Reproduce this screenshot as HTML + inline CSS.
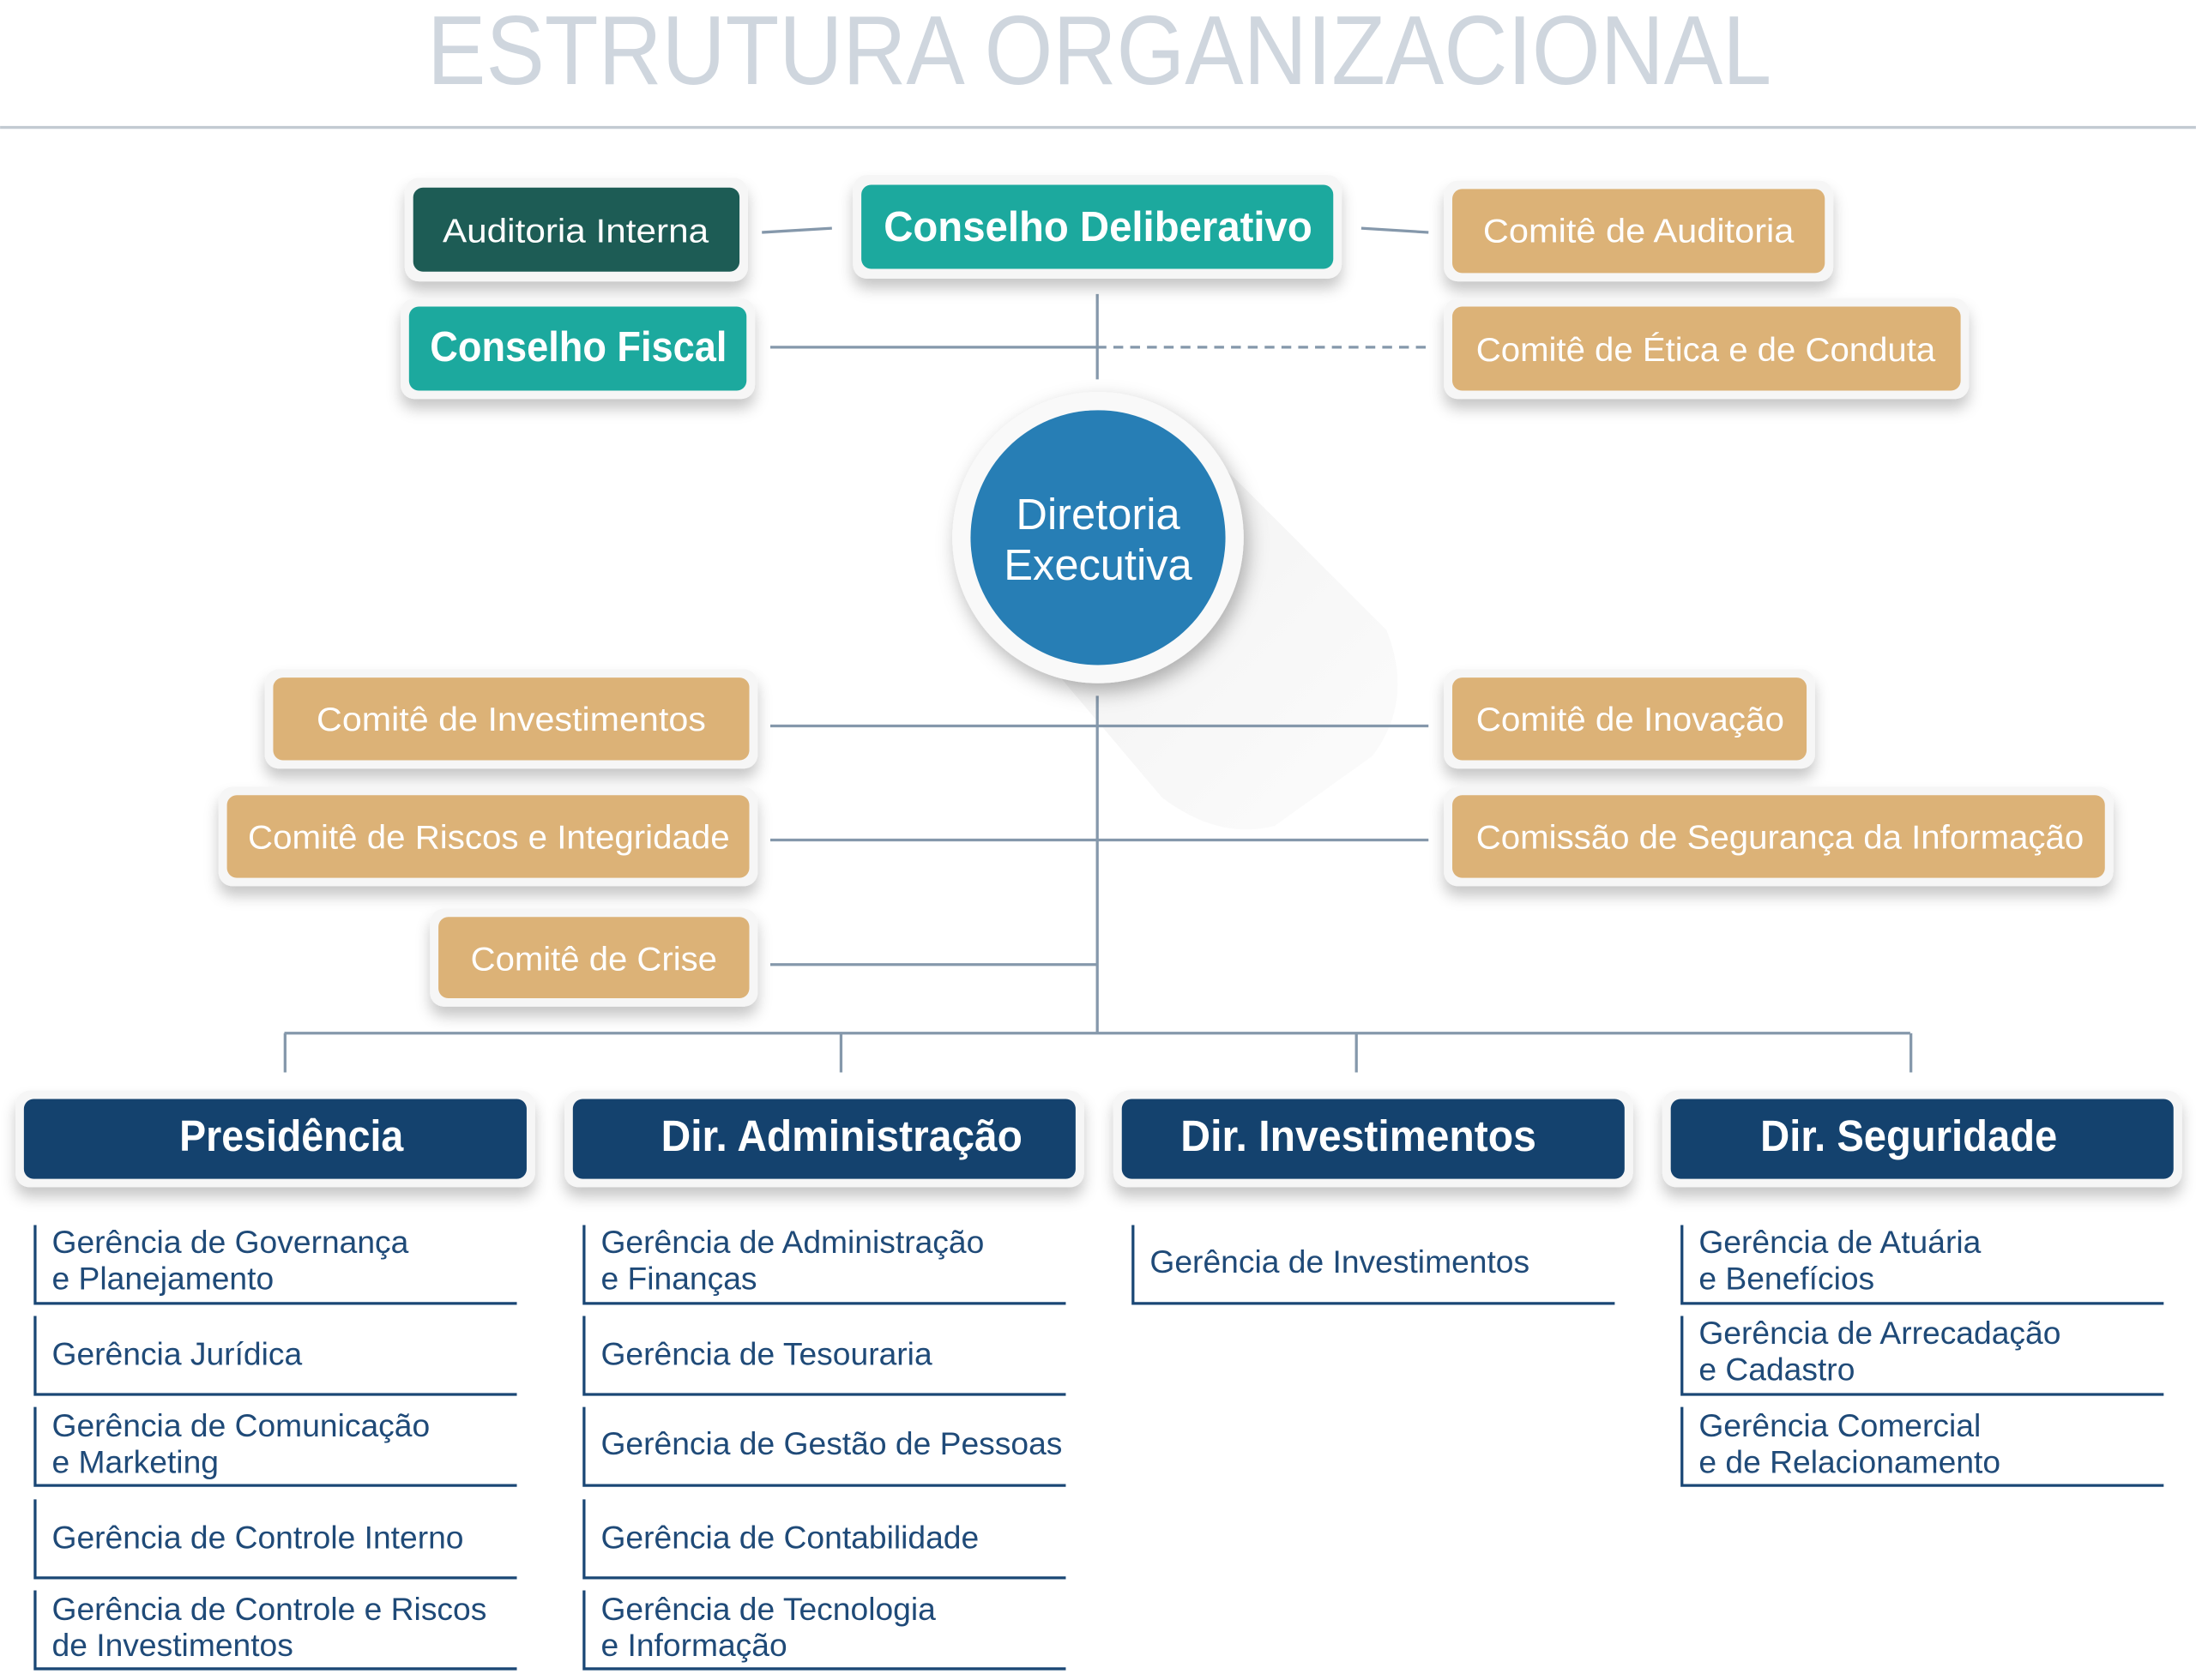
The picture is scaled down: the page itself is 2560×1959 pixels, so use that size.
<!DOCTYPE html>
<html><head><meta charset="utf-8"><style>
html,body{margin:0;padding:0;background:#fff;width:2560px;height:1959px;overflow:hidden}
svg{display:block}
text{font-family:"Liberation Sans",sans-serif}
</style></head><body>
<svg width="2560" height="1959" viewBox="0 0 1568 1200" xmlns="http://www.w3.org/2000/svg">
<defs>
<filter id="sh" x="-10%" y="-30%" width="120%" height="180%">
<feDropShadow dx="0" dy="7" stdDeviation="5" flood-color="#000" flood-opacity="0.22"/>
</filter>
<filter id="csh" x="-30%" y="-30%" width="160%" height="160%">
<feDropShadow dx="3" dy="6" stdDeviation="7" flood-color="#000" flood-opacity="0.3"/>
</filter>
<linearGradient id="lg" x1="0" y1="0" x2="1" y2="1">
<stop offset="0" stop-color="#d8d8d8" stop-opacity="0.6"/>
<stop offset="1" stop-color="#eeeeee" stop-opacity="0.3"/>
</linearGradient>
</defs>

<text x="785" y="60" text-anchor="middle" font-size="70" fill="#cfd6de" textLength="960" lengthAdjust="spacingAndGlyphs">ESTRUTURA ORGANIZACIONAL</text>
<line x1="0" y1="91" x2="1568" y2="91" stroke="#c2cad2" stroke-width="2"/>

<path d="M850 310 L990 450 Q1010 500 980 540 L910 590 Q870 600 830 570 L720 440 Z" fill="url(#lg)" opacity="0.7"/>

<g stroke="#8598ab" stroke-width="2" fill="none">
<line x1="544" y1="166" x2="594" y2="163"/>
<line x1="972" y1="163" x2="1020" y2="166"/>
<line x1="783.5" y1="210" x2="783.5" y2="271"/>
<line x1="550" y1="248" x2="783" y2="248"/>
<line x1="783" y1="248" x2="1020" y2="248" stroke-dasharray="7,5"/>
<line x1="783.5" y1="497" x2="783.5" y2="738"/>
<line x1="550" y1="518.5" x2="1020" y2="518.5"/>
<line x1="550" y1="600" x2="1020" y2="600"/>
<line x1="550" y1="689" x2="783" y2="689"/>
<line x1="203" y1="738" x2="1364" y2="738"/>
<line x1="203.5" y1="738" x2="203.5" y2="766"/>
<line x1="600.5" y1="738" x2="600.5" y2="766"/>
<line x1="968.5" y1="738" x2="968.5" y2="766"/>
<line x1="1364.5" y1="738" x2="1364.5" y2="766"/>
</g>

<g filter="url(#sh)">
<rect x="289" y="127" width="245" height="74" rx="10" fill="#f6f6f6"/>
<rect x="609" y="125" width="349" height="74" rx="10" fill="#f6f6f6"/>
<rect x="1031" y="129" width="278" height="72" rx="10" fill="#f6f6f6"/>
<rect x="286" y="213" width="253" height="72" rx="10" fill="#f6f6f6"/>
<rect x="1031" y="213" width="375" height="72" rx="10" fill="#f6f6f6"/>
<rect x="189" y="478" width="352" height="71" rx="10" fill="#f6f6f6"/>
<rect x="1031" y="478" width="265" height="71" rx="10" fill="#f6f6f6"/>
<rect x="156" y="562" width="385" height="71" rx="10" fill="#f6f6f6"/>
<rect x="1031" y="562" width="478" height="71" rx="10" fill="#f6f6f6"/>
<rect x="307" y="649" width="234" height="70" rx="10" fill="#f6f6f6"/>
<rect x="11" y="779" width="371" height="69" rx="10" fill="#f6f6f6"/>
<rect x="403" y="779" width="371" height="69" rx="10" fill="#f6f6f6"/>
<rect x="795" y="779" width="371" height="69" rx="10" fill="#f6f6f6"/>
<rect x="1187" y="779" width="371" height="69" rx="10" fill="#f6f6f6"/>
</g>
<rect x="295" y="134" width="233" height="60" rx="7" fill="#1d5c55"/>
<rect x="615" y="132" width="337" height="60" rx="7" fill="#1ca99e"/>
<rect x="1037" y="135" width="266" height="60" rx="7" fill="#dcb277"/>
<rect x="292" y="219" width="241" height="60" rx="7" fill="#1ca99e"/>
<rect x="1037" y="219" width="363" height="60" rx="7" fill="#dcb277"/>
<rect x="195" y="484" width="340" height="59" rx="7" fill="#dcb277"/>
<rect x="1037" y="484" width="253" height="59" rx="7" fill="#dcb277"/>
<rect x="162" y="568" width="373" height="59" rx="7" fill="#dcb277"/>
<rect x="1037" y="568" width="466" height="59" rx="7" fill="#dcb277"/>
<rect x="313" y="655" width="222" height="58" rx="7" fill="#dcb277"/>
<rect x="17" y="785" width="359" height="57" rx="7" fill="#14426e"/>
<rect x="409" y="785" width="359" height="57" rx="7" fill="#14426e"/>
<rect x="801" y="785" width="359" height="57" rx="7" fill="#14426e"/>
<rect x="1193" y="785" width="359" height="57" rx="7" fill="#14426e"/>

<g fill="#fff" text-anchor="middle">
<text x="411" y="173" font-size="24" textLength="190" lengthAdjust="spacingAndGlyphs">Auditoria Interna</text>
<text x="784" y="172" font-size="30" font-weight="bold" textLength="306" lengthAdjust="spacingAndGlyphs">Conselho Deliberativo</text>
<text x="1170" y="173" font-size="24" textLength="222" lengthAdjust="spacingAndGlyphs">Comitê de Auditoria</text>
<text x="413" y="258" font-size="30" font-weight="bold" textLength="212" lengthAdjust="spacingAndGlyphs">Conselho Fiscal</text>
<text x="1218" y="258" font-size="24" textLength="328" lengthAdjust="spacingAndGlyphs">Comitê de Ética e de Conduta</text>
<text x="365" y="522" font-size="24" textLength="278" lengthAdjust="spacingAndGlyphs">Comitê de Investimentos</text>
<text x="1164" y="522" font-size="24" textLength="220" lengthAdjust="spacingAndGlyphs">Comitê de Inovação</text>
<text x="349" y="606" font-size="24" textLength="344" lengthAdjust="spacingAndGlyphs">Comitê de Riscos e Integridade</text>
<text x="1271" y="606" font-size="24" textLength="434" lengthAdjust="spacingAndGlyphs">Comissão de Segurança da Informação</text>
<text x="424" y="693" font-size="24" textLength="176" lengthAdjust="spacingAndGlyphs">Comitê de Crise</text>
<text x="208" y="822" font-size="31" font-weight="bold" textLength="160" lengthAdjust="spacingAndGlyphs">Presidência</text>
<text x="601" y="822" font-size="31" font-weight="bold" textLength="258" lengthAdjust="spacingAndGlyphs">Dir. Administração</text>
<text x="970" y="822" font-size="31" font-weight="bold" textLength="254" lengthAdjust="spacingAndGlyphs">Dir. Investimentos</text>
<text x="1363" y="822" font-size="31" font-weight="bold" textLength="212" lengthAdjust="spacingAndGlyphs">Dir. Seguridade</text>
</g>

<circle cx="784" cy="384" r="104" fill="#f9f9f9" filter="url(#csh)"/>
<circle cx="784" cy="384" r="91" fill="#277eb5"/>
<g fill="#fff" text-anchor="middle" font-size="31">
<text x="784" y="378">Diretoria</text>
<text x="784" y="414">Executiva</text>
</g>

<g stroke="#1a4775" stroke-width="2" fill="none">
<path d="M25 875 V931 H369 M25 940 V996 H369 M25 1005 V1061 H369 M25 1071 V1127 H369 M25 1136 V1192 H369"/>
<path d="M417 875 V931 H761 M417 940 V996 H761 M417 1005 V1061 H761 M417 1071 V1127 H761 M417 1136 V1192 H761"/>
<path d="M809 875 V931 H1153"/>
<path d="M1201 875 V931 H1545 M1201 940 V996 H1545 M1201 1005 V1061 H1545"/>
</g>
<g fill="#1f4a78" font-size="22.8">
<text x="37" y="895">Gerência de Governança</text><text x="37" y="921">e Planejamento</text>
<text x="37" y="975">Gerência Jurídica</text>
<text x="37" y="1026">Gerência de Comunicação</text><text x="37" y="1052">e Marketing</text>
<text x="37" y="1106">Gerência de Controle Interno</text>
<text x="37" y="1157">Gerência de Controle e Riscos</text><text x="37" y="1183">de Investimentos</text>

<text x="429" y="895">Gerência de Administração</text><text x="429" y="921">e Finanças</text>
<text x="429" y="975">Gerência de Tesouraria</text>
<text x="429" y="1039">Gerência de Gestão de Pessoas</text>
<text x="429" y="1106">Gerência de Contabilidade</text>
<text x="429" y="1157">Gerência de Tecnologia</text><text x="429" y="1183">e Informação</text>

<text x="821" y="909">Gerência de Investimentos</text>

<text x="1213" y="895">Gerência de Atuária</text><text x="1213" y="921">e Benefícios</text>
<text x="1213" y="960">Gerência de Arrecadação</text><text x="1213" y="986">e Cadastro</text>
<text x="1213" y="1026">Gerência Comercial</text><text x="1213" y="1052">e de Relacionamento</text>
</g>
</svg>
</body></html>
